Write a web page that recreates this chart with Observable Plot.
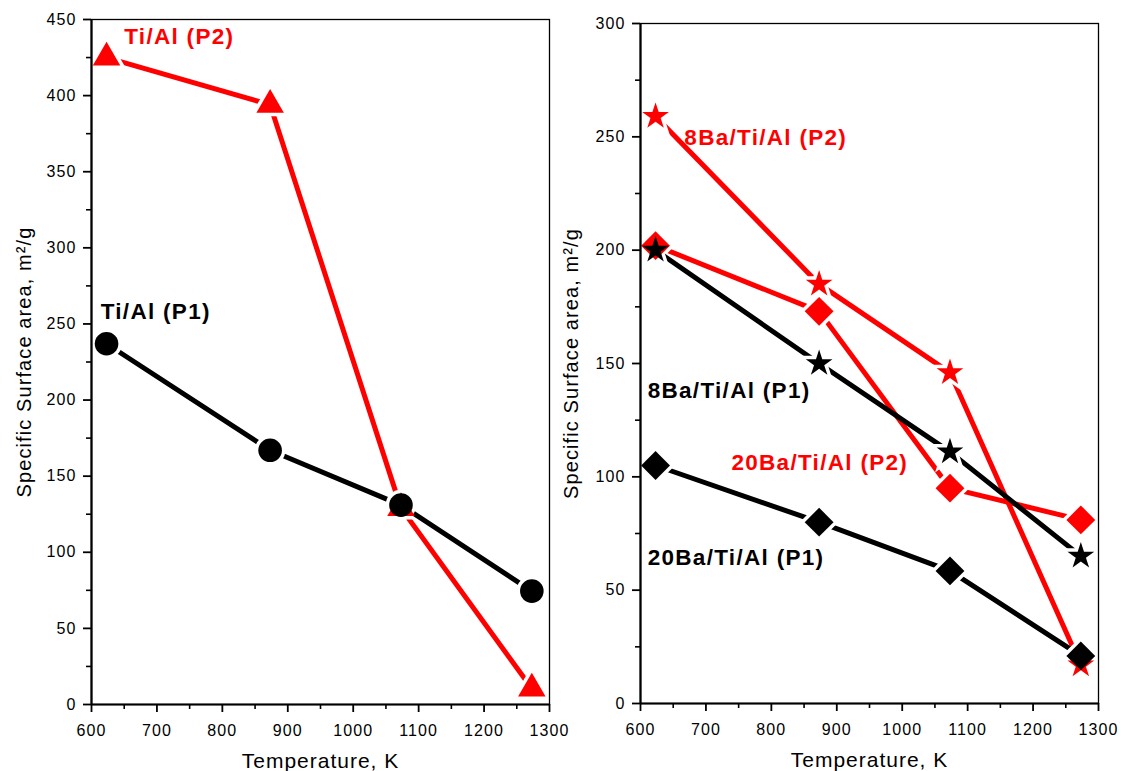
<!DOCTYPE html>
<html><head><meta charset="utf-8">
<script src="https://cdn.jsdelivr.net/npm/d3@7"></script>
<script src="https://cdn.jsdelivr.net/npm/@observablehq/plot@0.6"></script>
<style>
html,body{margin:0;padding:0;background:#fff;}
#wrap{position:relative;width:1121px;height:771px;overflow:hidden;background:#fff;}
#left,#right{position:absolute;top:0;}
#left{left:0;} #right{left:560px;}
</style></head><body>
<div id="wrap"><div id="left"></div><div id="right"></div></div>
<script>
// ---- data ----
const temperatures = [623, 873, 1073, 1273];
const tiAlP1 = [237, 167, 131, 74.5];
const tiAlP2 = [425, 394, 129, 10.5];
const ba8P1 = [200, 150, 111, 65];
const ba8P2 = [259, 185, 146, 17];
const ba20P1 = [105, 80, 58.5, 21];
const ba20P2 = [202, 173, 95, 81];

const xMajorTicks = [600, 700, 800, 900, 1000, 1100, 1200, 1300];
const xMinorTicks = [650, 750, 850, 950, 1050, 1150, 1250];
const yLeftMajor = [0, 50, 100, 150, 200, 250, 300, 350, 400, 450];
const yLeftMinor = [25, 75, 125, 175, 225, 275, 325, 375, 425];
const yRightMajor = [0, 50, 100, 150, 200, 250, 300];
const yRightMinor = [25, 75, 125, 175, 225, 275];

const xTitle = "Temperature, K";
const yTitle = "Specific Surface area, m\u00B2/g";

// annotation texts with their anchor in data units (temperature, area)
const leftAnnotations = [
  {text: "Ti/Al (P2)", T: 650, v: 434, series: "P2"},
  {text: "Ti/Al (P1)", T: 614, v: 253, series: "P1"}
];
const rightAnnotations = [
  {text: "8Ba/Ti/Al (P2)", T: 667, v: 246.5, series: "P2"},
  {text: "8Ba/Ti/Al (P1)", T: 611, v: 135, series: "P1"},
  {text: "20Ba/Ti/Al (P2)", T: 739, v: 102.8, series: "P2"},
  {text: "20Ba/Ti/Al (P1)", T: 611, v: 61, series: "P1"}
];

// ---- styles ----
const RED = "#ff0000", BLACK = "#000000";
const seriesColor = {P1: BLACK, P2: RED};
const FONT = "'Liberation Sans', Arial, Helvetica, sans-serif";

const rows = vals => temperatures.map((T, i) => ({T, v: vals[i]}));

const leftSeries = [
  {data: rows(tiAlP2), color: RED, symbol: "triangle", r: 10.2},
  {data: rows(tiAlP1), color: BLACK, symbol: "circle", r: 11.8}
];
const rightSeries = [
  {data: rows(ba8P2), color: RED, symbol: "star", r: 8.4},
  {data: rows(ba20P2), color: RED, symbol: "diamond2", r: 13},
  {data: rows(ba8P1), color: BLACK, symbol: "star", r: 8.4},
  {data: rows(ba20P1), color: BLACK, symbol: "diamond2", r: 13}
];

function panel(cfg) {
  const marks = [
    Plot.axisX(xMinorTicks, {tickSize: 5, strokeWidth: 1.6, fontSize: 16, tickFormat: () => "", label: null}),
    Plot.axisX(xMajorTicks, {tickSize: 8, strokeWidth: 1.8, fontSize: 16, tickPadding: 12, tickFormat: d => String(d),
      label: xTitle, labelAnchor: "center", labelArrow: "none", labelOffset: 63}),
    Plot.axisY(cfg.yMinor, {tickSize: 5, strokeWidth: 1.6, fontSize: 16, tickFormat: () => "", label: null}),
    Plot.axisY(cfg.yMajor, {tickSize: 8, strokeWidth: 1.8, fontSize: 16, tickPadding: 7, tickFormat: d => String(d),
      label: yTitle, labelAnchor: "center", labelArrow: "none", labelOffset: cfg.yLabelOffset})
  ];
  for (const s of cfg.series) {
    marks.push(Plot.line(s.data, {x: "T", y: "v", stroke: s.color, strokeWidth: 5, strokeLinecap: "round", strokeLinejoin: "round"}));
    marks.push(Plot.dot(s.data, {x: "T", y: "v", symbol: s.symbol, r: s.r, fill: "white", stroke: "white", strokeWidth: 7}));
  }
  for (const s of cfg.series) {
    marks.push(Plot.dot(s.data, {x: "T", y: "v", symbol: s.symbol, r: s.r, fill: s.color, stroke: "none"}));
  }
  for (const a of cfg.annotations) {
    marks.push(Plot.text([a], {x: "T", y: "v", text: "text", fill: seriesColor[a.series], fontSize: 22.5,
      fontWeight: "bold", textAnchor: "start", lineAnchor: "bottom"}));
  }
  marks.push(
    Plot.frame({stroke: BLACK, strokeWidth: 1.3}),
    Plot.ruleX([600], {stroke: BLACK, strokeWidth: 2.2}),
    Plot.ruleY([0], {stroke: BLACK, strokeWidth: 2.2})
  );
  const svg = Plot.plot({
    width: cfg.width, height: 771,
    marginLeft: cfg.marginLeft, marginRight: cfg.marginRight,
    marginTop: cfg.marginTop, marginBottom: cfg.marginBottom,
    x: {domain: [600, 1300]},
    y: {domain: cfg.yDomain},
    style: {fontFamily: FONT, fontSize: "16px", color: "black", background: "transparent", overflow: "visible"},
    marks
  });
  const sel = d3.select(svg);
  sel.selectAll('g[aria-label="x-axis tick label"] text, g[aria-label="y-axis tick label"] text')
    .attr("font-size", 16).attr("letter-spacing", "1.1px").attr("fill", "black");
  sel.selectAll('g[aria-label="x-axis label"] text').attr("font-size", 21).attr("letter-spacing", "1px").attr("fill", "black");
  sel.selectAll('g[aria-label="y-axis label"] text').attr("font-size", 20).attr("letter-spacing", "1.1px").attr("fill", "black");
  sel.selectAll('g[aria-label="text"] text').attr("letter-spacing", "1.3px");
  return svg;
}

document.getElementById("left").appendChild(panel({
  width: 560, marginLeft: 91, marginRight: 11, marginTop: 19, marginBottom: 67,
  yDomain: [0, 450], yMajor: yLeftMajor, yMinor: yLeftMinor, yLabelOffset: 75,
  series: leftSeries, annotations: leftAnnotations
}));
document.getElementById("right").appendChild(panel({
  width: 561, marginLeft: 80, marginRight: 23, marginTop: 23, marginBottom: 68,
  yDomain: [0, 300], yMajor: yRightMajor, yMinor: yRightMinor, yLabelOffset: 77,
  series: rightSeries, annotations: rightAnnotations
}));
</script>
</body></html>
